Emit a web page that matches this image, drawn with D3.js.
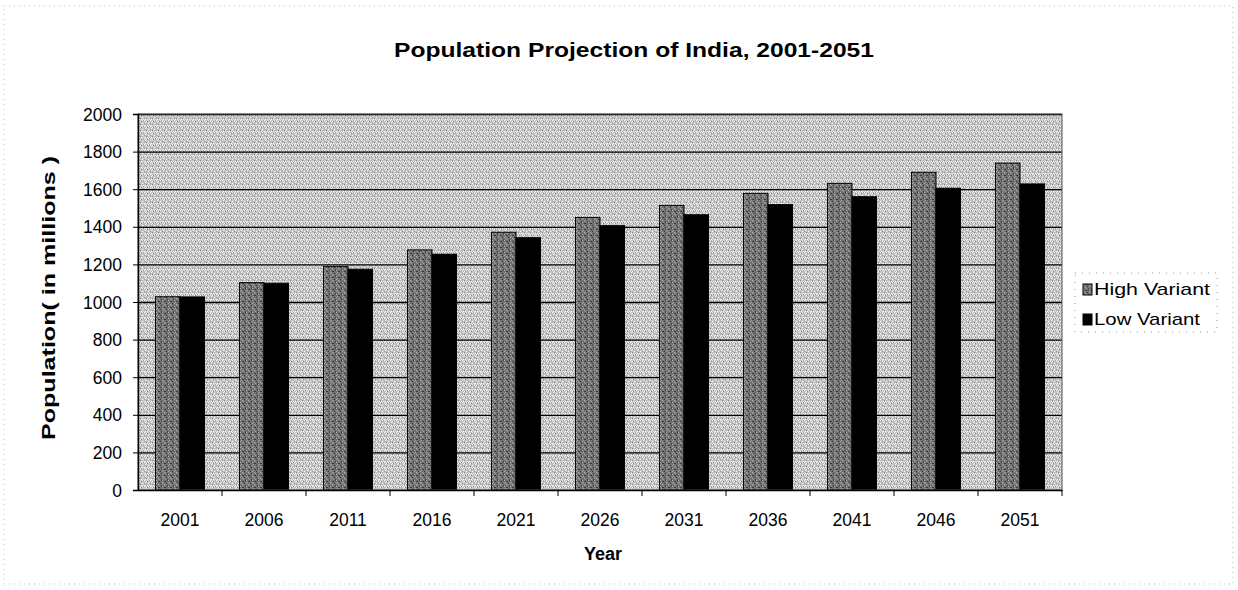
<!DOCTYPE html>
<html>
<head>
<meta charset="utf-8">
<script src="https://cdn.jsdelivr.net/npm/d3@7"></script>
<style>
  body { margin: 0; background: #fff; }
  svg { display: block; }
  text { font-family: "Liberation Sans", Arial, sans-serif; fill: #000; }
</style>
</head>
<body>
<svg id="chart" width="1238" height="590"></svg>
<script>
const years = ["2001","2006","2011","2016","2021","2026","2031","2036","2041","2046","2051"];
const highVariant = [1028, 1103, 1188, 1277, 1371, 1450, 1514, 1578, 1631, 1690, 1739];
const lowVariant  = [1027, 1100, 1174, 1254, 1342, 1406, 1464, 1518, 1560, 1605, 1628];
const yTicks = [0, 200, 400, 600, 800, 1000, 1200, 1400, 1600, 1800, 2000];
const seriesNames = ["High Variant", "Low Variant"];

const svg = d3.select("#chart");
const m = { left: 138, right: 1062, top: 114, bottom: 490 };

// Textures
const defs = svg.append("defs");
function makePattern(id, base, dots) {
  const p = defs.append("pattern").attr("id", id).attr("width", 6).attr("height", 6)
    .attr("patternUnits", "userSpaceOnUse");
  p.append("rect").attr("width", 6).attr("height", 6).attr("fill", base);
  dots.forEach(d => p.append("rect").attr("x", d[0]).attr("y", d[1]).attr("width", 1).attr("height", 1).attr("fill", d[2]));
}
makePattern("bgPat", "#c2c2c2", [
  [0,0,"#ffffff"],[3,1,"#828282"],[1,2,"#ececec"],[4,3,"#ffffff"],[2,4,"#888888"],[5,5,"#e4e4e4"],
  [5,0,"#949494"],[0,3,"#9a9a9a"],[3,5,"#f4f4f4"],[2,1,"#ffffff"],[4,0,"#f0f0f0"],[1,5,"#ffffff"]
]);
makePattern("hiPat", "#727272", [
  [0,0,"#b0b0b0"],[3,1,"#383838"],[1,2,"#a8a8a8"],[4,3,"#343434"],[2,4,"#b4b4b4"],[5,5,"#484848"],
  [5,0,"#404040"],[0,3,"#aaaaaa"],[3,5,"#9c9c9c"],[2,1,"#3e3e3e"]
]);

// faint outer dashed frame
svg.append("rect").attr("x", 4).attr("y", 6).attr("width", 1229).attr("height", 578)
  .attr("fill", "none").attr("stroke", "#bbb").attr("stroke-width", 1).attr("stroke-dasharray", "1,4");

const x = d3.scaleBand().domain(years).range([m.left, m.right]).paddingInner(0).paddingOuter(0);
const x1 = d3.scaleBand().domain(seriesNames).range([0, x.bandwidth()]).paddingInner(0).paddingOuter(0.71);
const y = d3.scaleLinear().domain([0, 2000]).range([m.bottom, m.top]);

// Plot background
svg.append("rect").attr("x", m.left).attr("y", m.top)
  .attr("width", m.right - m.left).attr("height", m.bottom - m.top)
  .attr("fill", "url(#bgPat)");

// Gridlines
svg.append("g").selectAll("line").data(yTicks.filter(t => t > 0)).join("line")
  .attr("x1", m.left).attr("x2", m.right)
  .attr("y1", d => y(d) + 0.5).attr("y2", d => y(d) + 0.5)
  .attr("stroke", "#000").attr("stroke-width", 1.3);

// Bars
const data = years.map((yr, i) => ({ year: yr, vals: [
  { name: seriesNames[0], v: highVariant[i] },
  { name: seriesNames[1], v: lowVariant[i] }
]}));
const groups = svg.append("g").selectAll("g").data(data).join("g")
  .attr("transform", d => `translate(${x(d.year)},0)`);
groups.selectAll("rect").data(d => d.vals).join("rect")
  .attr("x", d => x1(d.name))
  .attr("width", x1.bandwidth())
  .attr("y", d => y(d.v))
  .attr("height", d => y(0) - y(d.v))
  .attr("fill", d => d.name === seriesNames[0] ? "url(#hiPat)" : "#000")
  .attr("stroke", "#000").attr("stroke-width", 1);

// Plot border
svg.append("rect").attr("x", m.left).attr("y", m.top)
  .attr("width", m.right - m.left).attr("height", m.bottom - m.top)
  .attr("fill", "none").attr("stroke", "#555").attr("stroke-width", 1);

// Y axis
const yAxis = d3.axisLeft(y).tickValues(yTicks).tickSize(5).tickPadding(11).tickFormat(d3.format("d"));
const gy = svg.append("g").attr("transform", `translate(${m.left},0)`).call(yAxis);
gy.select(".domain").attr("stroke", "#000").attr("stroke-width", 1.5);
gy.selectAll(".tick line").attr("stroke", "#000");
gy.selectAll(".tick text").attr("font-size", 17.5).attr("font-family", "Liberation Sans, Arial, sans-serif")
  .attr("dy", "0.35em");

// X axis
const xAxis = d3.axisBottom(x).tickSize(0).tickPadding(24);
const gx = svg.append("g").attr("transform", `translate(0,${m.bottom})`).call(xAxis);
gx.select(".domain").attr("stroke", "#000").attr("stroke-width", 1.5);
gx.selectAll(".tick text").attr("font-size", 17.5).attr("font-family", "Liberation Sans, Arial, sans-serif");
// category boundary ticks
svg.append("g").selectAll("line").data(years.slice(1).concat(["__end"])).join("line")
  .attr("x1", d => d === "__end" ? m.right : x(d))
  .attr("x2", d => d === "__end" ? m.right : x(d))
  .attr("y1", m.bottom).attr("y2", m.bottom + 6)
  .attr("stroke", "#000");

// Title
svg.append("text").attr("x", 634).attr("y", 57).attr("text-anchor", "middle")
  .attr("font-size", 20.5).attr("font-weight", "bold")
  .attr("textLength", 480).attr("lengthAdjust", "spacingAndGlyphs")
  .text("Population Projection of India, 2001-2051");

// Axis titles
svg.append("text").attr("x", 603).attr("y", 560).attr("text-anchor", "middle")
  .attr("font-size", 18).attr("font-weight", "bold").text("Year");
svg.append("text").attr("transform", "translate(55,298) rotate(-90)").attr("text-anchor", "middle")
  .attr("font-size", 18.5).attr("font-weight", "bold")
  .attr("textLength", 284).attr("lengthAdjust", "spacingAndGlyphs")
  .text("Population( in millions )");

// Legend
const lg = svg.append("g").attr("transform", "translate(1075,273)");
lg.append("rect").attr("x", 0).attr("y", 0).attr("width", 142).attr("height", 59)
  .attr("fill", "#fff").attr("stroke", "#999").attr("stroke-dasharray", "1,6");
const items = lg.selectAll("g.item").data(seriesNames).join("g").attr("class", "item")
  .attr("transform", (d, i) => `translate(8,${16 + i * 30})`);
items.append("rect").attr("x", 0).attr("y", -5).attr("width", 9).attr("height", 11)
  .attr("fill", (d, i) => i === 0 ? "url(#hiPat)" : "#000").attr("stroke", "#000");
items.append("text").attr("x", 11).attr("y", 6).attr("font-size", 17)
  .attr("textLength", (d, i) => i === 0 ? 116 : 106).attr("lengthAdjust", "spacingAndGlyphs")
  .text(d => d);
</script>
</body>
</html>
